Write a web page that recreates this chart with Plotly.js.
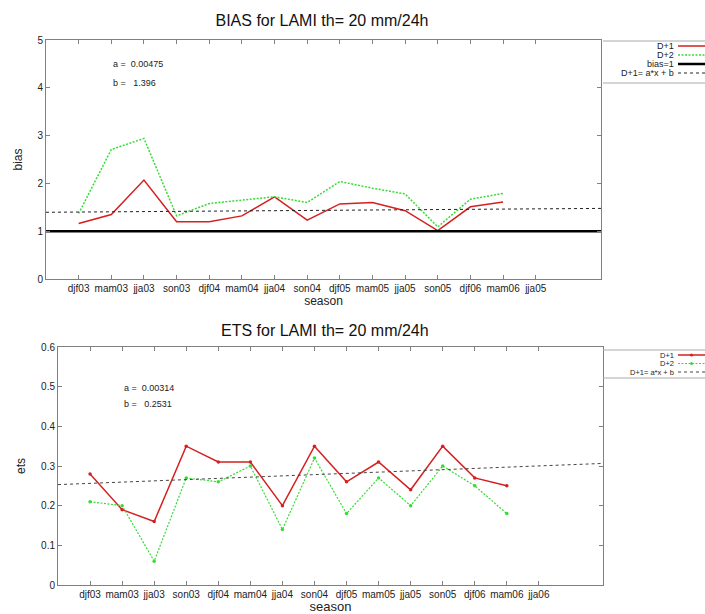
<!DOCTYPE html>
<html>
<head>
<meta charset="utf-8">
<script src="https://cdn.plot.ly/plotly-3.0.1.min.js"></script>
<style>html,body{margin:0;padding:0;background:#fff;}#chart{width:705px;height:614px;}</style>
</head>
<body>
<div id="chart"></div>
<script>
// ---- data ----
const seasonIndex = [1,2,3,4,5,6,7,8,9,10,11,12,13,14];
const tickIndex = [1,2,3,4,5,6,7,8,9,10,11,12,13,14,15];
const biasTickLabels = ['djf03','mam03','jja03','son03','djf04','mam04','jja04','son04','djf05','mam05','jja05','son05','djf06','mam06','jja05'];
const etsTickLabels  = ['djf03','mam03','jja03','son03','djf04','mam04','jja04','son04','djf05','mam05','jja05','son05','djf06','mam06','jja06'];
const biasD1 = [1.16,1.35,2.07,1.20,1.20,1.32,1.72,1.23,1.57,1.60,1.43,1.01,1.51,1.61];
const biasD2 = [1.37,2.71,2.94,1.32,1.58,1.65,1.72,1.60,2.04,1.90,1.78,1.09,1.67,1.79];
const etsD1  = [0.28,0.19,0.16,0.35,0.31,0.31,0.20,0.35,0.26,0.31,0.24,0.35,0.27,0.25];
const etsD2  = [0.21,0.20,0.06,0.27,0.26,0.30,0.14,0.32,0.18,0.27,0.20,0.30,0.25,0.18];
const biasFitA = 0.00475, biasFitB = 1.396;
const etsFitA = 0.00314, etsFitB = 0.2531;
const xSpan = [0, 17];

// ---- helpers ----
const W = 705, H = 614;
const px = x => x / W;
const py = y => 1 - y / H;
const RED = '#d42020', GREEN = '#33dd33';
const FONT = 'Liberation Sans, Arial, sans-serif';

const traces = [
  {x: seasonIndex, y: biasD1, mode: 'lines', line: {color: RED, width: 1.5}, xaxis: 'x', yaxis: 'y', name: 'D+1'},
  {x: seasonIndex, y: biasD2, mode: 'lines', line: {color: GREEN, width: 1.5, dash: '2px,1.5px'}, xaxis: 'x', yaxis: 'y', name: 'D+2'},
  {x: xSpan, y: [1, 1], mode: 'lines', line: {color: '#000', width: 2.5}, xaxis: 'x', yaxis: 'y', name: 'bias=1'},
  {x: xSpan, y: xSpan.map(v => biasFitA * v + biasFitB), mode: 'lines', line: {color: '#222', width: 1, dash: '3px,3px'}, xaxis: 'x', yaxis: 'y', name: 'D+1= a*x + b'},
  {x: seasonIndex, y: etsD1, mode: 'lines+markers', line: {color: RED, width: 1.5}, marker: {color: RED, size: 3.5}, xaxis: 'x2', yaxis: 'y2', name: 'D+1'},
  {x: seasonIndex, y: etsD2, mode: 'lines+markers', line: {color: GREEN, width: 1.2, dash: '2px,1.5px'}, marker: {color: GREEN, size: 3.5}, xaxis: 'x2', yaxis: 'y2', name: 'D+2'},
  {x: xSpan, y: xSpan.map(v => etsFitA * v + etsFitB), mode: 'lines', line: {color: '#444', width: 1, dash: '3px,3px'}, xaxis: 'x2', yaxis: 'y2', name: 'D+1= a*x + b'}
];

const axisCommon = {
  showline: true, mirror: 'ticks', linecolor: '#808080', linewidth: 1,
  ticks: 'inside', ticklen: 4, tickcolor: '#808080', showgrid: false, zeroline: false,
  tickfont: {family: FONT, size: 10, color: '#222'}, fixedrange: true
};

const shapes = [];
const annotations = [];

function legendLine(y, color, width, dash, marker) {
  shapes.push({type: 'line', xref: 'paper', yref: 'paper', x0: px(678), x1: px(705), y0: py(y), y1: py(y),
    line: {color: color, width: width, dash: dash || 'solid'}});
  if (marker) {
    shapes.push({type: 'circle', xref: 'paper', yref: 'paper', x0: px(690), x1: px(693), y0: py(y + 1.5), y1: py(y - 1.5),
      fillcolor: color, line: {color: color, width: 0}});
  }
}
function legendText(y, text, size) {
  annotations.push({xref: 'paper', yref: 'paper', x: px(675), y: py(y), xanchor: 'right', yanchor: 'middle',
    text: text, showarrow: false, font: {family: FONT, size: size, color: '#222'}, borderpad: 0});
}
function boxLine(y) {
  shapes.push({type: 'line', xref: 'paper', yref: 'paper', x0: px(603), x1: px(705), y0: py(y), y1: py(y),
    line: {color: '#aaaaaa', width: 1}});
}

// top legend
boxLine(41); boxLine(83);
legendText(46, 'D+1', 9); legendLine(46, RED, 1.5);
legendText(55, 'D+2', 9); legendLine(55, GREEN, 1.5, '2px,1.5px');
legendText(64, 'bias=1', 9); legendLine(64, '#000', 2.5);
legendText(73, 'D+1= a*x + b', 9); legendLine(73, '#222', 1, '3px,3px');
// bottom legend
boxLine(350); boxLine(378);
legendText(355, 'D+1', 7.5); legendLine(355, RED, 1.5, null, true);
legendText(363.5, 'D+2', 7.5); legendLine(363.5, GREEN, 1.2, '2px,1.5px', true);
legendText(372, 'D+1= a*x + b', 7.5); legendLine(372, '#444', 1, '3px,3px');

// fit labels
annotations.push({xref: 'x', yref: 'y', x: 2, y: 4.5, xanchor: 'left', yanchor: 'middle', showarrow: false,
  text: 'a =\u00a0 ' + biasFitA, font: {family: FONT, size: 9, color: '#222'}});
annotations.push({xref: 'x', yref: 'y', x: 2, y: 4.1, xanchor: 'left', yanchor: 'middle', showarrow: false,
  text: 'b =\u00a0\u00a0 ' + biasFitB, font: {family: FONT, size: 9, color: '#222'}});
annotations.push({xref: 'x2', yref: 'y2', x: 2, y: 0.497, xanchor: 'left', yanchor: 'middle', showarrow: false,
  text: 'a =\u00a0 ' + etsFitA, font: {family: FONT, size: 9, color: '#222'}});
annotations.push({xref: 'x2', yref: 'y2', x: 2, y: 0.457, xanchor: 'left', yanchor: 'middle', showarrow: false,
  text: 'b =\u00a0\u00a0 ' + etsFitB, font: {family: FONT, size: 9, color: '#222'}});

// second title
annotations.push({xref: 'paper', yref: 'paper', x: px(325), y: py(330), xanchor: 'center', yanchor: 'middle', showarrow: false,
  text: 'ETS for LAMI th= 20 mm/24h', font: {family: FONT, size: 16, color: '#111'}});

const layout = {
  width: W, height: H,
  margin: {l: 0, r: 0, t: 0, b: 0},
  paper_bgcolor: '#fff', plot_bgcolor: '#fff',
  showlegend: false,
  font: {family: FONT, color: '#222'},
  title: {text: 'BIAS for LAMI th= 20 mm/24h', x: px(322), xanchor: 'center', y: py(20), yanchor: 'middle',
    yref: 'container', xref: 'container', font: {family: FONT, size: 16, color: '#111'}},
  xaxis: Object.assign({}, axisCommon, {domain: [px(46), px(601)], range: xSpan, anchor: 'y',
    tickvals: tickIndex, ticktext: biasTickLabels,
    title: {text: 'season', standoff: 1, font: {family: FONT, size: 12, color: '#222'}}}),
  yaxis: Object.assign({}, axisCommon, {domain: [py(279), py(40)], range: [0, 5], dtick: 1, anchor: 'x',
    title: {text: 'bias', standoff: 12, font: {family: FONT, size: 12, color: '#222'}}}),
  xaxis2: Object.assign({}, axisCommon, {domain: [px(58), px(603)], range: xSpan, anchor: 'y2',
    tickvals: tickIndex, ticktext: etsTickLabels,
    title: {text: 'season', standoff: 1, font: {family: FONT, size: 13, color: '#222'}}}),
  yaxis2: Object.assign({}, axisCommon, {domain: [py(585), py(347)], range: [0, 0.6], dtick: 0.1, anchor: 'x2',
    title: {text: 'ets', standoff: 12, font: {family: FONT, size: 12, color: '#222'}}}),
  shapes: shapes,
  annotations: annotations
};

Plotly.newPlot('chart', traces, layout, {displayModeBar: false, staticPlot: true});
</script>
</body>
</html>
